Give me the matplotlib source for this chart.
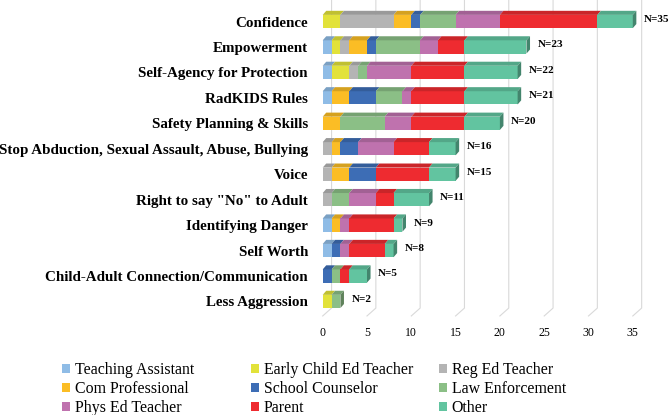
import numpy as np
import matplotlib
matplotlib.use('Agg')
import matplotlib.pyplot as plt
from matplotlib.patches import Polygon, Patch
from matplotlib.colors import to_rgb

plt.rcParams['font.family'] = ['Liberation Serif', 'DejaVu Serif']

categories = ['Confidence', 'Empowerment', 'Self-Agency for Protection', 'RadKIDS Rules',
              'Safety Planning & Skills', 'Stop Abduction, Sexual Assault, Abuse, Bullying',
              'Voice', 'Right to say "No" to Adult', 'Identifying Danger', 'Self Worth',
              'Child-Adult Connection/Communication', 'Less Aggression']
n_labels = [35, 23, 22, 21, 20, 16, 15, 11, 9, 8, 5, 2]

series_names = ['Teaching Assistant', 'Early Child Ed Teacher', 'Reg Ed Teacher',
                'Com Professional', 'School Counselor', 'Law Enforcement',
                'Phys Ed Teacher', 'Parent', 'Other']
teaching_assistant = [0, 1, 1, 1, 0, 0, 0, 0, 1, 1, 0, 0]
early_child_ed     = [2, 1, 2, 0, 0, 0, 0, 0, 0, 0, 0, 1]
reg_ed_teacher     = [6, 1, 1, 0, 0, 1, 1, 1, 0, 0, 0, 0]
com_professional   = [2, 2, 0, 2, 2, 1, 2, 0, 1, 0, 0, 0]
school_counselor   = [1, 1, 0, 3, 0, 2, 3, 0, 0, 1, 1, 0]
law_enforcement    = [4, 5, 1, 3, 5, 0, 0, 2, 0, 0, 1, 1]
phys_ed_teacher    = [5, 2, 5, 1, 3, 4, 0, 3, 1, 1, 0, 0]
parent             = [11, 3, 6, 6, 6, 4, 6, 2, 5, 4, 1, 0]
other              = [4, 7, 6, 6, 4, 3, 3, 4, 1, 1, 2, 0]
series = [teaching_assistant, early_child_ed, reg_ed_teacher, com_professional,
          school_counselor, law_enforcement, phys_ed_teacher, parent, other]
colors = ['#8fbce6', '#e2e23a', '#b4b4b4', '#fbbd25', '#3d6db5', '#8bbf86',
          '#bf72ae', '#ee2b30', '#62c4a0']

W, H = 669, 415
fig = plt.figure(figsize=(W / 100, H / 100), dpi=100)

# pixel layout of the plot area (front face scale)
x0_px, px_per_x = 322.7, 8.86
y_top_px, px_per_y = 21.5, 25.45
xlim = (-0.5, 37.0)
ylim = (-0.75, 11.85)
left = (x0_px + xlim[0] * px_per_x) / W
right = (x0_px + xlim[1] * px_per_x) / W
bottom_px = y_top_px + (11 - ylim[0]) * px_per_y
top_px = y_top_px - (ylim[1] - 11) * px_per_y
ax = fig.add_axes([left, 1 - bottom_px / H, right - left, (bottom_px - top_px) / H])
ax.set_xlim(*xlim)
ax.set_ylim(*ylim)

ypos = np.arange(len(categories))[::-1]
h = 0.52
dx, dy = 0.4, 0.16          # bar depth
bdx, bdy = 1.0, 0.31        # back wall offset
floor_front = -0.57

# gridlines on the back wall + floor diagonals
for v in range(0, 36, 5):
    ax.plot([v + bdx, v + bdx, v], [11.85, floor_front + bdy, floor_front],
            color='#d9d9d9', lw=0.8, zorder=0, clip_on=False)

def shade(c, f):
    r, g, b = to_rgb(c)
    return (r * f, g * f, b * f)

lefts = np.zeros(len(categories))
for vals, col, name in zip(series, colors, series_names):
    vals = np.array(vals, dtype=float)
    ax.barh(ypos, vals, left=lefts, height=h, color=col, edgecolor='none', zorder=2, label=name)
    for y, l, w in zip(ypos, lefts, vals):
        if w <= 0:
            continue
        top = y + h / 2
        ax.add_patch(Polygon([(l, top), (l + w, top), (l + w + dx, top + dy), (l + dx, top + dy)],
                             closed=True, facecolor=shade(col, 0.85), edgecolor='none', zorder=2))
    lefts += vals

# side face on the end of each bar + N label
for i, (y, tot) in enumerate(zip(ypos, lefts)):
    last = max(k for k, s in enumerate(series) if s[i] > 0)
    col = colors[last]
    ax.add_patch(Polygon([(tot, y - h / 2), (tot + dx, y - h / 2 + dy), (tot + dx, y + h / 2 + dy),
                          (tot, y + h / 2)], closed=True, facecolor=shade(col, 0.68),
                         edgecolor='none', zorder=2))
    ax.text(tot + 1.25, y + 0.08, f'N={n_labels[i]}', fontsize=8,
            fontweight='bold', va='center', ha='left', clip_on=False)

ax.set_yticks(ypos)
ax.set_yticklabels(categories, fontsize=10.8, fontweight='bold')
ax.set_xticks(range(0, 36, 5))
ax.tick_params(axis='both', length=0)
ax.tick_params(axis='y', pad=7.4)
ax.tick_params(axis='x', pad=4.5, labelsize=8.5)
for s in ax.spines.values():
    s.set_visible(False)
ax.patch.set_alpha(0)

# legend, three columns placed like the original
handles = [Patch(facecolor=c, edgecolor='none') for c in colors]
col_x = [62, 251, 439]
for k in range(3):
    idx = [k, k + 3, k + 6]
    fig.legend([handles[i] for i in idx], [series_names[i] for i in idx],
               loc='upper left', bbox_to_anchor=(col_x[k] / W, 1 - 362 / H),
               frameon=False, fontsize=11.4, handlelength=0.5, handleheight=0.5,
               handletextpad=0.3, labelspacing=0.2, borderpad=0, borderaxespad=0)

fig.savefig('out.png', dpi=100)
